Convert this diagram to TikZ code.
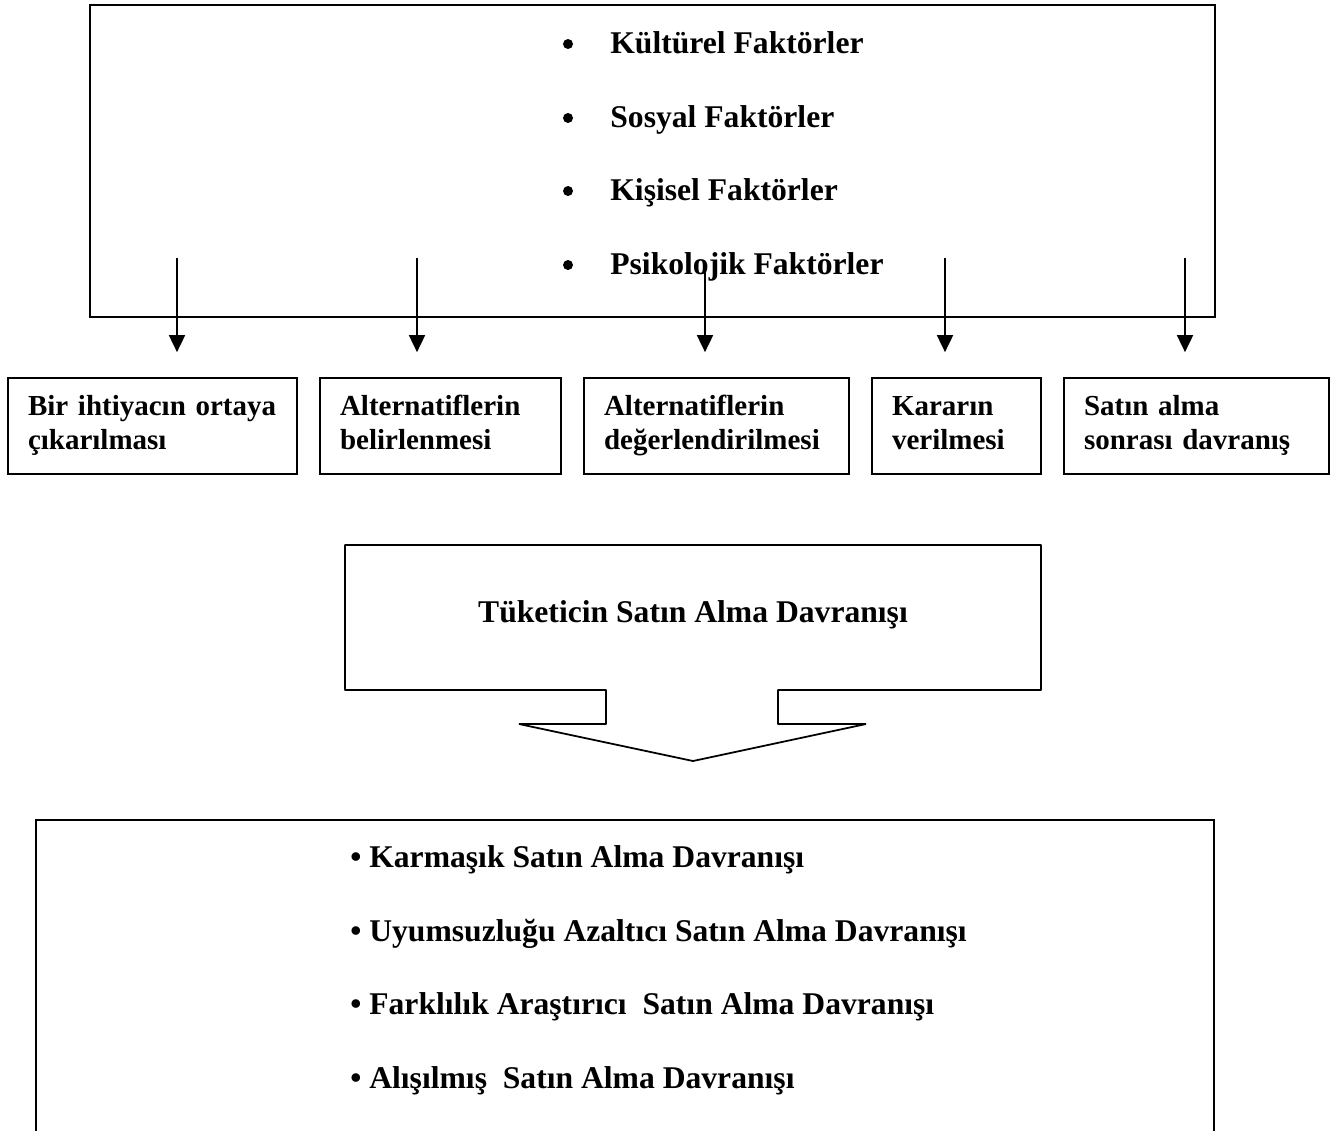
\documentclass[tikz,border=0pt]{standalone}
\usepackage{fontspec}
\setmainfont{Liberation Serif}
\usepackage{tikz}
\usetikzlibrary{arrows.meta,positioning,calc}

\newcommand{\twolines}[2]{\strut #1\\#2\strut}

\tikzset{
  stepbox/.style={draw, line width=1pt, minimum height=1.92cm, inner xsep=0.4cm,
    align=left, font=\fontsize{16.5}{19}\selectfont\bfseries},
  factor/.style={anchor=base west, inner sep=0pt, font=\fontsize{18}{21}\selectfont\bfseries},
  dot/.style={circle, fill, inner sep=0pt, minimum size=0.2cm},
  arr/.style={line width=1pt, -{Triangle[length=0.34cm,width=0.32cm]}, shorten >=0.5cm}
}

\begin{document}
\begin{tikzpicture}[x=0.02cm, y=-0.02cm]
    \useasboundingbox (0,0) rectangle (1344,1130);

    % Factors box
    \draw[line width=1pt] (90,5) rectangle (1215,317);
    \foreach \i/\y/\t in {1/53/Kültürel Faktörler, 2/127/Sosyal Faktörler,
                          3/200/Kişisel Faktörler, 4/274/Psikolojik Faktörler} {
        \node[dot] (d\i) at (568,\y-9) {};
        \node[factor] (f\i) at (610,\y) {\t};
    }

    % Decision steps
    \node[stepbox, minimum width=5.78cm, text width=4.98cm] (b1) at (152.5,426) {\twolines{Bir ihtiyacın ortaya}{çıkarılması}};
    \node[stepbox, minimum width=4.82cm, text width=4.02cm] (b2) at (440.5,426) {\twolines{Alternatiflerin}{belirlenmesi}};
    \node[stepbox, minimum width=5.30cm, text width=4.50cm] (b3) at (716.5,426) {\twolines{Alternatiflerin}{değerlendirilmesi}};
    \node[stepbox, minimum width=3.38cm, text width=2.58cm] (b4) at (956.5,426) {\twolines{Kararın}{verilmesi}};
    \node[stepbox, minimum width=5.30cm, text width=4.50cm] (b5) at (1196.5,426) {\twolines{Satın alma}{sonrası davranış}};

    % Arrows from factors
    \coordinate (s1) at (177,258);
    \coordinate (s2) at (417,258);
    \coordinate (s3) at (705,270);
    \coordinate (s4) at (945,258);
    \coordinate (s5) at (1185,258);
    \foreach \i in {1,...,5}
        \draw[arr] (s\i) -- (s\i |- b\i.north);

    % Callout
    \draw[line width=1pt, line join=bevel] (345,545) -- (1041,545) -- (1041,690) -- (778,690) -- (778,724)
        -- (866,724) -- (693,761) -- (519,724) -- (606,724) -- (606,690) -- (345,690) -- cycle;
    \node[factor, anchor=base] (tb) at (693,622) {Tüketicin Satın Alma Davranışı};

    % Types of buying behaviour
    \draw[line width=1pt] (36,1131) -- (36,820) -- (1214,820) -- (1214,1131);
    \node[factor] (t1) at (350,867) {\textbullet\ Karmaşık Satın Alma Davranışı};
    \node[factor] (t2) at (350,941) {\textbullet\ Uyumsuzluğu Azaltıcı Satın Alma Davranışı};
    \node[factor] (t3) at (350,1014) {\textbullet\ Farklılık Araştırıcı\ \ Satın Alma Davranışı};
    \node[factor] (t4) at (350,1088) {\textbullet\ Alışılmış\ \ Satın Alma Davranışı};

\end{tikzpicture}
\end{document}
